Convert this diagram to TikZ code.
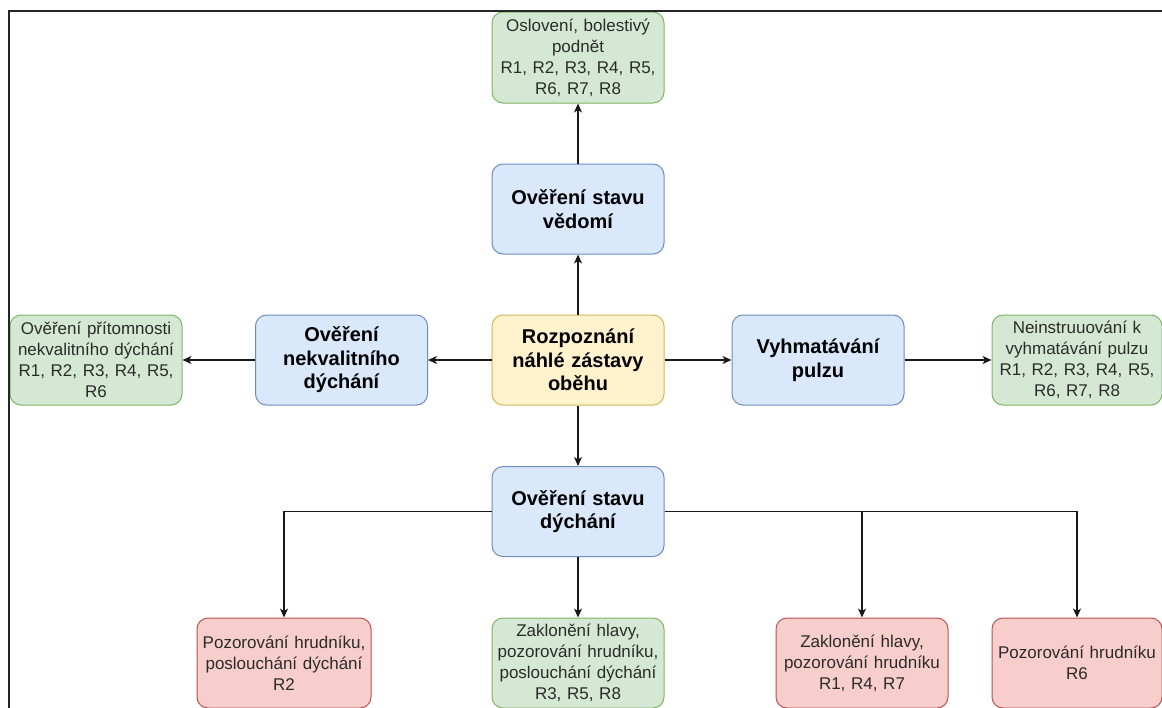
\documentclass[tikz,border=0pt]{standalone}
\usepackage{fontspec}
\setmainfont{Liberation Sans}
\usetikzlibrary{arrows.meta}
\definecolor{bfill}{HTML}{DAE8FC}
\definecolor{bline}{HTML}{6C8EBF}
\definecolor{yfill}{HTML}{FFF2CC}
\definecolor{yline}{HTML}{D6B656}
\definecolor{gfill}{HTML}{D5E8D4}
\definecolor{gline}{HTML}{82B366}
\definecolor{rfill}{HTML}{F8CECC}
\definecolor{rline}{HTML}{B85450}
\definecolor{txt}{HTML}{2B2B2B}
\tikzset{
  box/.style={rounded corners=11pt, line width=1pt, minimum width=172pt, minimum height=90pt,
    inner sep=0pt, align=center, text width=170pt},
  mainbox/.style={box, font=\fontsize{20}{23.5}\selectfont\bfseries, text=black},
  leafbox/.style={box, font=\fontsize{17}{21}\selectfont, text=txt},
  bluebox/.style={mainbox, fill=bfill, draw=bline},
  yellowbox/.style={mainbox, fill=yfill, draw=yline},
  greenbox/.style={leafbox, fill=gfill, draw=gline},
  redbox/.style={leafbox, fill=rfill, draw=rline},
  conn/.style={line width=1.2pt, draw=black!90, -{Stealth[length=9pt,width=8pt,inset=2.5pt]}},
  frame/.style={line width=1.8pt, draw=black!85}
}
\begin{document}
\begin{tikzpicture}[x=1pt,y=-1pt]
\useasboundingbox (0,0) rectangle (1162,707);
\clip (0,0) rectangle (1162,707);
\fill[white] (0,0) rectangle (1162,707);

\node[greenbox, minimum height=91pt] (top) at (578,57.5) {Oslovení, bolestivý\\podnět\\R1, R2, R3, R4, R5,\\R6, R7, R8};
\node[bluebox] (vedomi) at (578,209) {Ověření stavu\\vědomí};
\node[yellowbox] (center) at (578,360) {Rozpoznání\\náhlé zástavy\\oběhu};
\node[bluebox] (nekval) at (341.5,360) {Ověření\\nekvalitního\\dýchání};
\node[greenbox] (lgreen) at (96,360) {Ověření přítomnosti\\nekvalitního dýchání\\R1, R2, R3, R4, R5,\\R6};
\node[bluebox] (pulz) at (818,360) {Vyhmatávání\\pulzu};
\node[greenbox, minimum width=170pt] (rgreen) at (1077,360) {Neinstruuování k\\vyhmatávání pulzu\\R1, R2, R3, R4, R5,\\R6, R7, R8};
\node[bluebox] (dych) at (578,511.5) {Ověření stavu\\dýchání};

\node[redbox, minimum width=174pt] (r1) at (284,663) {Pozorování hrudníku,\\poslouchání dýchání\\R2};
\node[greenbox] (g2) at (578,663) {Zaklonění hlavy,\\pozorování hrudníku,\\poslouchání dýchání\\R3, R5, R8};
\node[redbox] (r2) at (862,663) {Zaklonění hlavy,\\pozorování hrudníku\\R1, R4, R7};
\node[redbox, minimum width=170pt] (r3) at (1077,663) {Pozorování hrudníku\\R6};

\draw[conn] (center) -- (vedomi);
\draw[conn] (vedomi) -- (top);
\draw[conn] (center) -- (nekval);
\draw[conn] (nekval) -- (lgreen);
\draw[conn] (center) -- (pulz);
\draw[conn] (pulz) -- (rgreen);
\draw[conn] (center) -- (dych);
\draw[conn] (dych) -- (g2);
\draw[conn] (dych.west) -| (r1.north);
\draw[conn] (dych.east) -| (r2.north);
\draw[conn] (dych.east) -| (r3.north);

\draw[frame] (9,708) -- (9,11) -- (1163,11);
\end{tikzpicture}
\end{document}
